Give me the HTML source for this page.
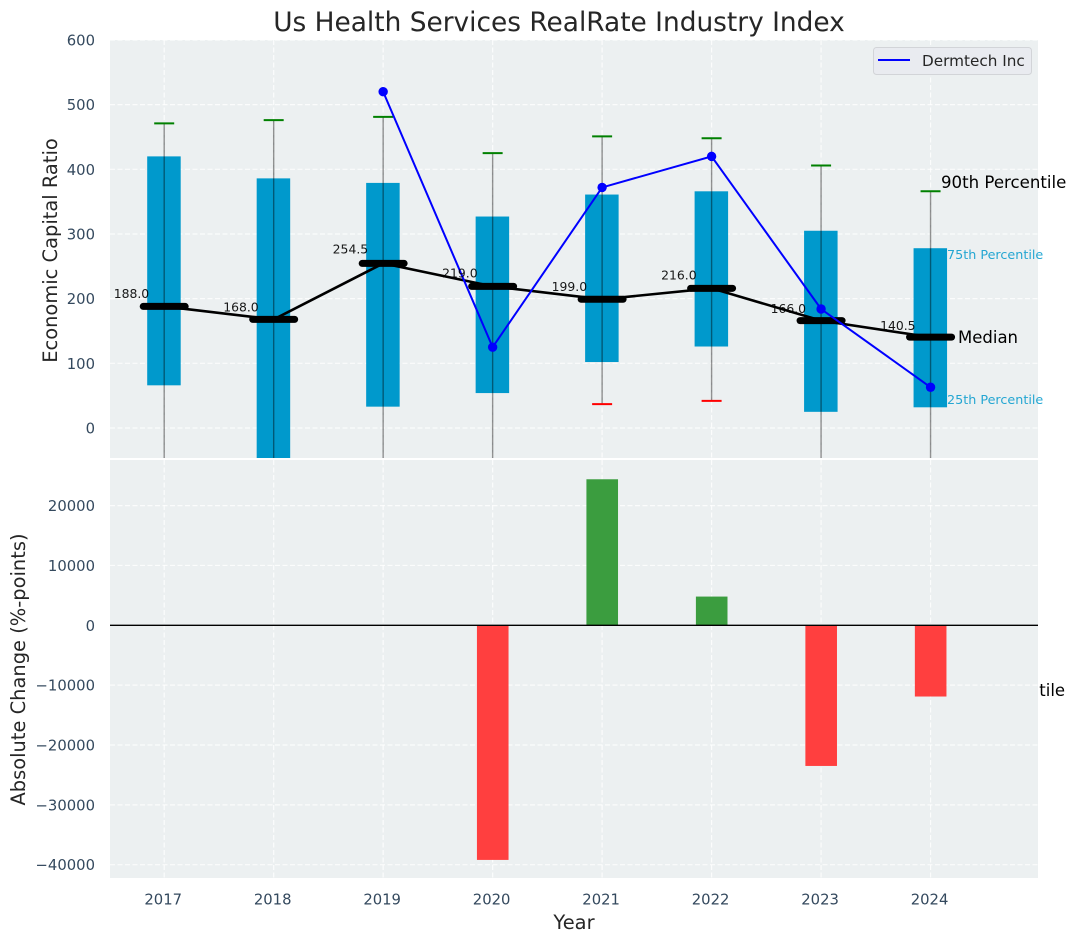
<!DOCTYPE html>
<html>
<head>
<meta charset="utf-8">
<title>Us Health Services RealRate Industry Index</title>
<style>
html,body{margin:0;padding:0;background:#fff;width:1076px;height:942px;overflow:hidden}
svg{display:block}
text{font-family:"DejaVu Sans","Liberation Sans",sans-serif}
</style>
</head>
<body>
<svg id="chart" xmlns="http://www.w3.org/2000/svg" width="1076" height="942" viewBox="0 0 1076 942">
  <defs>
    <clipPath id="clip-top"><rect x="110" y="40" width="928" height="418"/></clipPath>
    <clipPath id="clip-bottom"><rect x="110" y="460" width="928" height="418"/></clipPath>
  </defs>
  <text x="559" y="31" text-anchor="middle" font-size="26.4" fill="#262626">Us Health Services RealRate Industry Index</text>
  <rect x="110" y="40" width="928" height="418" fill="#ecf0f1"/>
  <g id="top-grid"></g>
  <g id="top-marks" clip-path="url(#clip-top)"></g>
  <g id="top-labels"></g>
  <text x="941" y="188" font-size="16.6" fill="#000">90th Percentile</text>
  <text x="947" y="259" font-size="12.75" fill="#0099cc" fill-opacity="0.85">75th Percentile</text>
  <text x="958" y="343" font-size="16.5" fill="#000">Median</text>
  <text x="947" y="404" font-size="12.75" fill="#0099cc" fill-opacity="0.85">25th Percentile</text>
  <text x="940.5" y="696" font-size="16.5" fill="#000">10th Percentile</text>
  <rect x="110" y="460" width="928" height="418" fill="#ecf0f1"/>
  <g id="bottom-grid"></g>
  <g id="bottom-marks" clip-path="url(#clip-bottom)"></g>
  <g id="axis-labels"></g>
  <text transform="translate(57,250.5) rotate(-90)" text-anchor="middle" font-size="19.45" fill="#262626">Economic Capital Ratio</text>
  <text transform="translate(25,669.5) rotate(-90)" text-anchor="middle" font-size="19.45" fill="#262626">Absolute Change (%-points)</text>
  <text x="574" y="929" text-anchor="middle" font-size="19.45" fill="#262626">Year</text>
  <g>
    <rect x="873.5" y="47.5" width="158" height="27" rx="3" fill="#e9ebf0" stroke="#d2d4d8" stroke-width="1"/>
    <line x1="878" y1="60" x2="910" y2="60" stroke="#0000ff" stroke-width="2"/>
    <text x="922" y="66" font-size="15.25" fill="#262626">Dermtech Inc</text>
  </g>
</svg>
<script>
const years = [2017, 2018, 2019, 2020, 2021, 2022, 2023, 2024];
const p90 = [471, 476, 481, 425, 451, 448, 406, 366];
const p75 = [420, 386, 379, 327, 361, 366, 305, 278];
const medians = [188, 168, 254.5, 219, 199, 216, 166, 140.5];
const p25 = [66, -60, 33, 54, 102, 126, 25, 32];
const p10 = [-100, -130, -90, -110, 37, 42, -120, -110];
const companyYears = [2019, 2020, 2021, 2022, 2023, 2024];
const companyValues = [520, 125, 372, 420, 184, 63];
const changeYears = [2020, 2021, 2022, 2023, 2024];
const changeValues = [-39200, 24400, 4800, -23500, -11900];
const topTicks = [0, 100, 200, 300, 400, 500, 600];
const bottomTicks = [-40000, -30000, -20000, -10000, 0, 10000, 20000];

const NS = 'http://www.w3.org/2000/svg';
const xScale = function (year) { return 164.2 + (year - 2017) * 109.48; };
const yTop = function (v) { return 428 - v * 0.6467; };
const yBottom = function (v) { return 625.3 - v * 0.005985; };

function make(parent, tag, attrs, text) {
  const el = document.createElementNS(NS, tag);
  for (const k in attrs) { el.setAttribute(k, attrs[k]); }
  if (text !== undefined) { el.textContent = text; }
  parent.appendChild(el);
  return el;
}
function fmtTick(v) { return v < 0 ? '\u2212' + Math.abs(v) : String(v); }

const gridStyle = { stroke: '#ffffff', 'stroke-width': 1.2, 'stroke-dasharray': '5 2.5', 'stroke-opacity': 0.8 };
const topGrid = document.getElementById('top-grid');
const bottomGrid = document.getElementById('bottom-grid');
const labels = document.getElementById('axis-labels');
const topMarks = document.getElementById('top-marks');
const bottomMarks = document.getElementById('bottom-marks');
const medLabels = document.getElementById('top-labels');

years.forEach(function (yr) {
  const x = xScale(yr);
  const a = make(topGrid, 'line', Object.assign({ x1: x, x2: x, y1: 40, y2: 458 }, gridStyle));
  
  
  const b = make(bottomGrid, 'line', Object.assign({ x1: x, x2: x, y1: 460, y2: 878 }, gridStyle));
  
  
  const t = make(labels, 'text', { x: x - 1, y: 904.5, 'text-anchor': 'middle', 'font-size': 14.8, fill: '#34495e' }, String(yr));
  
  
});
topTicks.forEach(function (v) {
  const y = yTop(v);
  const l = make(topGrid, 'line', Object.assign({ x1: 110, x2: 1038, y1: y, y2: y }, gridStyle));
  
  
  const t = make(labels, 'text', { x: 95, y: y + 5.5, 'text-anchor': 'end', 'font-size': 14.8, fill: '#34495e' }, fmtTick(v));
  
  
});
bottomTicks.forEach(function (v) {
  const y = yBottom(v);
  const l = make(bottomGrid, 'line', Object.assign({ x1: 110, x2: 1038, y1: y, y2: y }, gridStyle));
  
  
  const t = make(labels, 'text', { x: 95, y: y + 5.5, 'text-anchor': 'end', 'font-size': 14.8, fill: '#34495e' }, fmtTick(v));
  
  
});

years.forEach(function (yr, i) {
  const x = xScale(yr);
  const top = yTop(p75[i]);
  const bot = yTop(p25[i]);
  const bar = make(topMarks, 'rect', { x: x - 17, y: top, width: 33.5, height: bot - top, fill: '#0099cc' });
  
  
});
years.forEach(function (yr, i) {
  const x = xScale(yr);
  const w = make(topMarks, 'line', { x1: x, x2: x, y1: yTop(p90[i]), y2: yTop(p10[i]), stroke: '#000', 'stroke-opacity': 0.42, 'stroke-width': 1.4 });
  
  
  const c1 = make(topMarks, 'line', { x1: x - 10, x2: x + 10, y1: yTop(p90[i]), y2: yTop(p90[i]), stroke: '#008000', 'stroke-width': 2 });
  
  
  const c2 = make(topMarks, 'line', { x1: x - 10, x2: x + 10, y1: yTop(p10[i]), y2: yTop(p10[i]), stroke: '#ff0000', 'stroke-width': 2 });
  
  
});

const medPts = years.map(function (yr, i) { return xScale(yr) + ',' + yTop(medians[i]); }).join(' ');
const medLine = make(topMarks, 'polyline', { points: medPts, fill: 'none', stroke: '#000', 'stroke-width': 2.6 });



years.forEach(function (yr, i) {
  const x = xScale(yr);
  const y = yTop(medians[i]);
  const m = make(topMarks, 'line', { x1: x - 21, x2: x + 21, y1: y, y2: y, stroke: '#000', 'stroke-width': 7, 'stroke-linecap': 'round' });
  
  
  const t = make(medLabels, 'text', { x: x - 15, y: yTop(medians[i] * 1.04) - 3.4, 'text-anchor': 'end', 'font-size': 12.4, fill: '#000', 'fill-opacity': 0.9 }, medians[i].toFixed(1));
  
  
});

const compPts = companyYears.map(function (yr, i) { return xScale(yr) + ',' + yTop(companyValues[i]); }).join(' ');
const compLine = make(topMarks, 'polyline', { points: compPts, fill: 'none', stroke: '#0000ff', 'stroke-width': 2 });


companyYears.forEach(function (yr, i) {
  const p = make(topMarks, 'circle', { cx: xScale(yr), cy: yTop(companyValues[i]), r: 4.7, fill: '#0000ff' });
  
  
});

changeYears.forEach(function (yr, i) {
  const x = xScale(yr);
  const v = changeValues[i];
  const y0 = yBottom(0);
  const y1 = yBottom(v);
  const r = make(bottomMarks, 'rect', { x: x - 15.7, y: Math.min(y0, y1), width: 31.6, height: Math.abs(y1 - y0), fill: v >= 0 ? '#3b9d3f' : '#ff3f3f' });
  
  
});
const zero = make(bottomMarks, 'line', { x1: 110, x2: 1038, y1: yBottom(0), y2: yBottom(0), stroke: '#000', 'stroke-width': 1.4 });


</script>
</body>
</html>
